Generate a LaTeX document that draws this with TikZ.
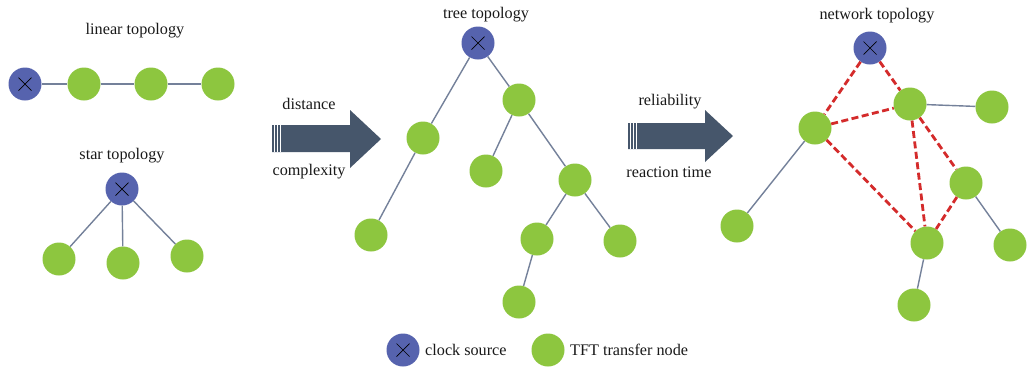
\documentclass[tikz,border=0pt]{standalone}
\usepackage{fontspec}
\setmainfont{Liberation Serif}
\definecolor{clkblue}{HTML}{5663AE}
\definecolor{tftgreen}{HTML}{8DC63F}
\definecolor{linkgray}{HTML}{74819A}
\definecolor{linkred}{HTML}{D42B2B}
\definecolor{arrowslate}{HTML}{46566B}
\tikzset{
  clk/.style={circle, fill=clkblue, minimum size=33pt, inner sep=0pt,
    path picture={\draw[black, line width=0.7pt]
      ([shift={(-6.5pt,-6.5pt)}]path picture bounding box.center) -- ([shift={(6.5pt,6.5pt)}]path picture bounding box.center)
      ([shift={(-6.5pt,6.5pt)}]path picture bounding box.center) -- ([shift={(6.5pt,-6.5pt)}]path picture bounding box.center);}},
  tft/.style={circle, fill=tftgreen, minimum size=33pt, inner sep=0pt},
  solidlink/.style={draw=linkgray, line width=1.4pt},
  redlink/.style={draw=linkred, line width=2.8pt, dash pattern=on 7pt off 3.5pt},
  lbl/.style={font=\rmfamily\fontsize{16.2}{18}\selectfont, inner sep=0pt, text=black!90},
  bigarrow/.style={fill=arrowslate}
}
\begin{document}
\begin{tikzpicture}[x=1pt,y=-1pt]
\fill[white] (0,0) rectangle (1029,368);
\useasboundingbox (0,0) rectangle (1029,368);

% ---------- linear topology ----------
\node[lbl] (linlbl) at (135,31) {linear topology};
\node[clk] (l0) at (25,84) {};
\node[tft] (l1) at (84,84) {};
\node[tft] (l2) at (151,84) {};
\node[tft] (l3) at (218,84) {};
\draw[solidlink] (l0) -- (l1);
\draw[solidlink] (l1) -- (l2);
\draw[solidlink] (l2) -- (l3);

% ---------- star topology ----------
\node[lbl] (starlbl) at (122,156) {star topology};
\node[clk] (s0) at (122,189) {};
\node[tft] (s1) at (59,259) {};
\node[tft] (s2) at (123,263) {};
\node[tft] (s3) at (187,256) {};
\draw[solidlink] (s0) -- (s1);
\draw[solidlink] (s0) -- (s2);
\draw[solidlink] (s0) -- (s3);

% ---------- arrow 1 ----------
\fill[bigarrow] (272,125) -- (350,125) -- (350,110) -- (381,139) -- (350,168) -- (350,152) -- (272,152) -- cycle;
\draw[white, line width=0.9pt] (274.5,125) -- (274.5,152) (277.5,125) -- (277.5,152) (280.5,125) -- (280.5,152);
\node[lbl] (dist) at (309,104) {distance};
\node[lbl] (cmplx) at (309,172) {complexity};

% ---------- tree topology ----------
\node[lbl] (treelbl) at (486,15) {tree topology};
\node[clk] (t0) at (478,43) {};
\node[tft] (ta) at (423,138) {};
\node[tft] (tb) at (519,100) {};
\node[tft] (tc) at (486,171) {};
\node[tft] (td) at (575,180) {};
\node[tft] (te) at (371,235) {};
\node[tft] (tf) at (537,239) {};
\node[tft] (tg) at (620,241) {};
\node[tft] (th) at (519,302) {};
\draw[solidlink] (t0) -- (ta);
\draw[solidlink] (t0) -- (tb);
\draw[solidlink] (ta) -- (te);
\draw[solidlink] (tb) -- (tc);
\draw[solidlink] (tb) -- (td);
\draw[solidlink] (td) -- (tf);
\draw[solidlink] (td) -- (tg);
\draw[solidlink] (tf) -- (th);

% ---------- arrow 2 ----------
\fill[bigarrow] (628,123) -- (705,123) -- (705,110) -- (733,136) -- (705,162) -- (705,149) -- (628,149) -- cycle;
\draw[white, line width=0.9pt] (630.5,123) -- (630.5,149) (633.5,123) -- (633.5,149) (636.5,123) -- (636.5,149);
\node[lbl] (relia) at (670,102) {reliability};
\node[lbl] (react) at (669,172) {reaction time};

% ---------- network topology ----------
\node[lbl] (netlbl) at (877,16) {network topology};
\node[clk] (n0) at (870,48) {};
\node[tft] (na) at (815,128) {};
\node[tft] (nb) at (910,104) {};
\node[tft] (nc) at (992,107) {};
\node[tft] (nd) at (966,183) {};
\node[tft] (ne) at (737,226) {};
\node[tft] (nf) at (927,243) {};
\node[tft] (ng) at (1010,245) {};
\node[tft] (nh) at (914,305) {};
\draw[solidlink] (nb) -- (nc);
\draw[solidlink] (na) -- (ne);
\draw[solidlink] (nd) -- (ng);
\draw[solidlink] (nf) -- (nh);
\draw[redlink] (n0) -- (na);
\draw[redlink] (n0) -- (nb);
\draw[redlink] (na) -- (nb);
\draw[redlink] (na) -- (nf);
\draw[redlink] (nb) -- (nf);
\draw[redlink] (nb) -- (nd);
\draw[redlink] (nd) -- (nf);

% ---------- legend ----------
\node[clk] (legclk) at (403,350) {};
\node[lbl, anchor=west] (legclktxt) at (425,350) {clock source};
\node[tft] (legtft) at (548,350) {};
\node[lbl, anchor=west] (legtfttxt) at (570,350) {TFT transfer node};
\end{tikzpicture}
\end{document}
